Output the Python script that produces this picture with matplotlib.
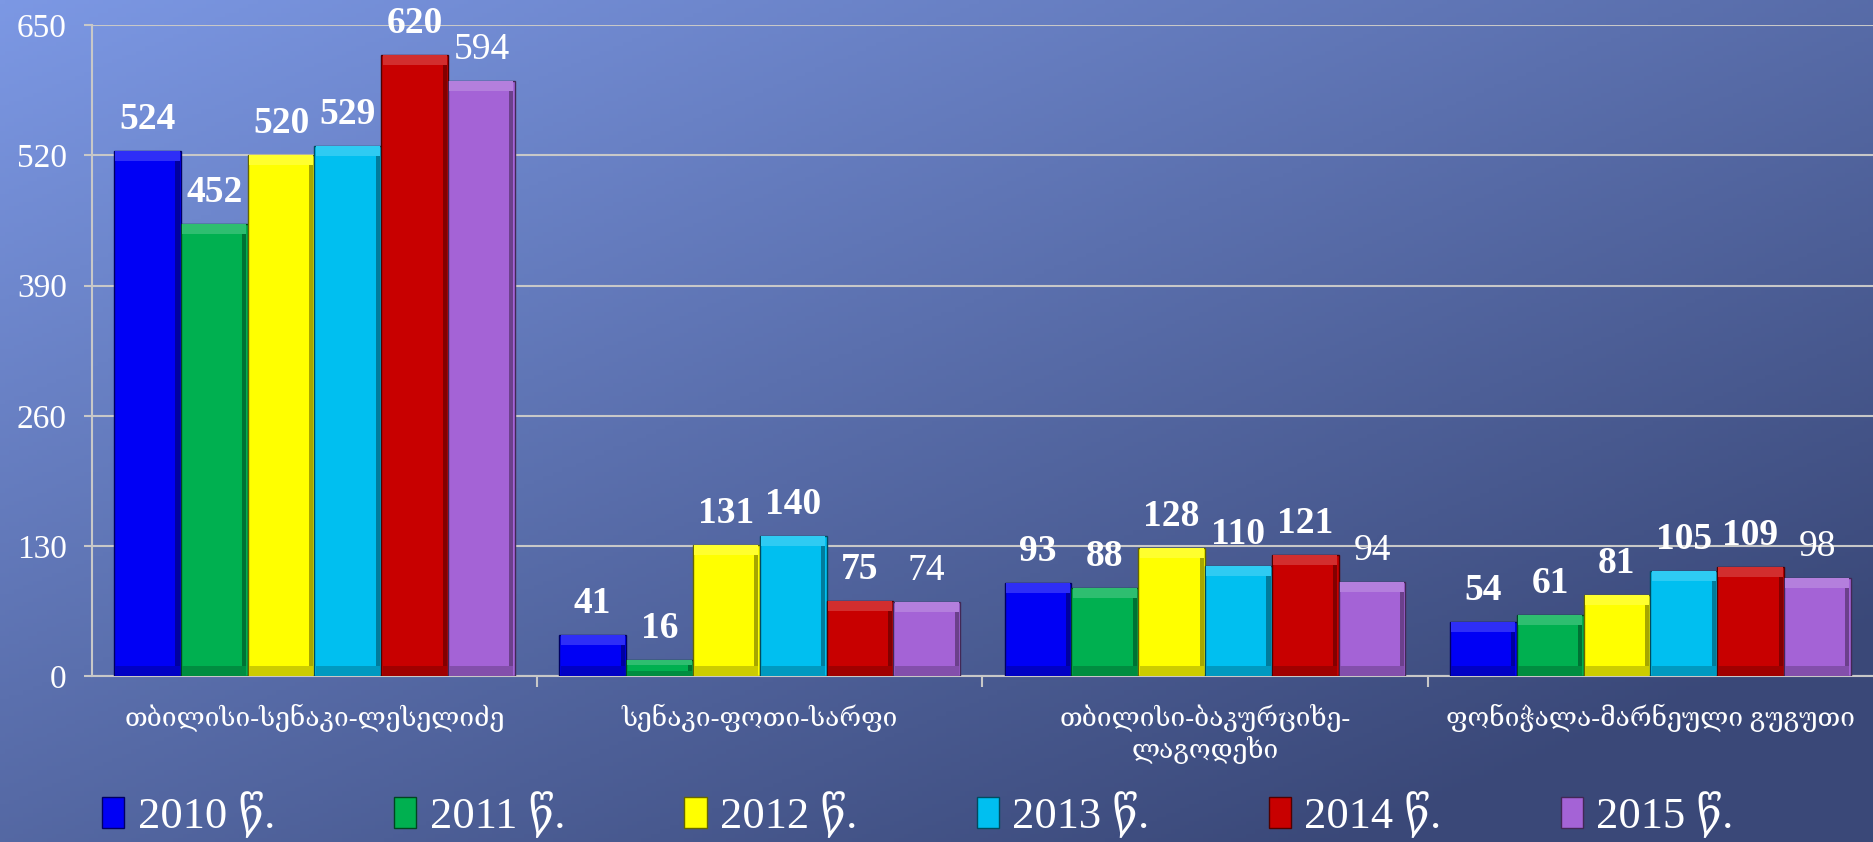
import numpy as np
import matplotlib.pyplot as plt
from matplotlib.colors import to_rgb

routes = ['თბილისი-სენაკი-ლესელიძე', 'სენაკი-ფოთი-სარფი',
          'თბილისი-ბაკურციხე-\nლაგოდეხი', 'ფონიჭალა-მარნეული გუგუთი']
years = ['2010 წ.', '2011 წ.', '2012 წ.', '2013 წ.', '2014 წ.', '2015 წ.']
v2010 = [524, 41, 93, 54]
v2011 = [452, 16, 88, 61]
v2012 = [520, 131, 128, 81]
v2013 = [529, 140, 110, 105]
v2014 = [620, 75, 121, 109]
v2015 = [594, 74, 94, 98]
yticks = [0, 130, 260, 390, 520, 650]

series = [v2010, v2011, v2012, v2013, v2014, v2015]
colors = ['#0000f5', '#00b050', '#ffff00', '#00bff0', '#c80000', '#a463d6']


def mix(c, other, f):
    return tuple(np.array(to_rgb(c)) * (1 - f) + np.array(to_rgb(other)) * f)


plt.rcParams['font.family'] = ['Liberation Serif', 'DejaVu Serif']

fig = plt.figure(figsize=(18.73, 8.42), dpi=100)

# background gradient (light top-left -> dark bottom-right)
bg = fig.add_axes([0, 0, 1, 1])
yy, xx = np.mgrid[0:1:200j, 0:1:400j]
t = np.clip(0.55 * xx + 0.6 * yy, 0, 1)[..., None]
c0 = np.array([124, 152, 228]) / 255
c1 = np.array([58, 72, 120]) / 255
img = c0 * (1 - t) + c1 * t
bg.imshow(img, aspect='auto', extent=[0, 1, 0, 1], origin='upper')
bg.axis('off')

ax = fig.add_axes([0.049, 0.197, 0.951, 0.773])
ax.patch.set_alpha(0)

x = np.arange(len(routes))
w = 0.15
for i, (vals, col) in enumerate(zip(series, colors)):
    pos = x + (i - 2.5) * w
    ax.bar(pos, vals, width=w, color=col, edgecolor=mix(col, 'black', 0.6),
           linewidth=1.0, label=years[i], zorder=3)
    vals = np.array(vals, dtype=float)
    band = np.minimum(10, vals / 3)
    # bevel: light top, dark right side, dark bottom
    ax.bar(pos, band, bottom=vals - band, width=w * 0.96, color=mix(col, 'white', 0.18),
           linewidth=0, zorder=3.5)
    ax.bar(pos + w * 0.45, vals - band, width=w * 0.06, color=mix(col, 'black', 0.35),
           linewidth=0, zorder=3.5)
    ax.bar(pos, band, width=w * 0.96, color=mix(col, 'black', 0.2),
           linewidth=0, zorder=3.5)
    for px, v in zip(pos, vals):
        ax.text(px, v + 14, str(int(v)), ha='center', va='bottom', color='white',
                fontsize=27, fontweight='normal' if i == 5 else 'bold', zorder=4)

ax.set_ylim(0, 650)
ax.set_xlim(-0.5, 3.5)
ax.set_yticks(yticks)
ax.set_yticklabels([str(v) for v in yticks])
ax.yaxis.grid(True, color='#c8c8c8', linewidth=1.5, zorder=1)
ax.set_xticks(x)
ax.set_xticklabels(routes)
ax.set_xticks([0.5, 1.5, 2.5], minor=True)
ax.tick_params(axis='x', which='major', length=0, pad=20, labelsize=19, labelcolor='white')
ax.tick_params(axis='x', which='minor', length=8, width=1.5, color='#c8c8c8', direction='out')
ax.tick_params(axis='y', length=6, width=1.5, color='#c8c8c8', labelsize=24,
               labelcolor='white', pad=12)
for s in ['top', 'right']:
    ax.spines[s].set_visible(False)
for s in ['left', 'bottom']:
    ax.spines[s].set_color('#c8c8c8')
    ax.spines[s].set_linewidth(1.5)

handles, labels = ax.get_legend_handles_labels()
leg = fig.legend(handles, labels, loc='lower left', bbox_to_anchor=(0.045, -0.016, 0.89, 0.06),
                 ncol=6, mode='expand', frameon=False, fontsize=32,
                 handlelength=0.5, handleheight=0.7, handletextpad=0.3,
                 borderaxespad=0.0)
for txt in leg.get_texts():
    txt.set_color('white')

fig.savefig('out.png', dpi=100)
